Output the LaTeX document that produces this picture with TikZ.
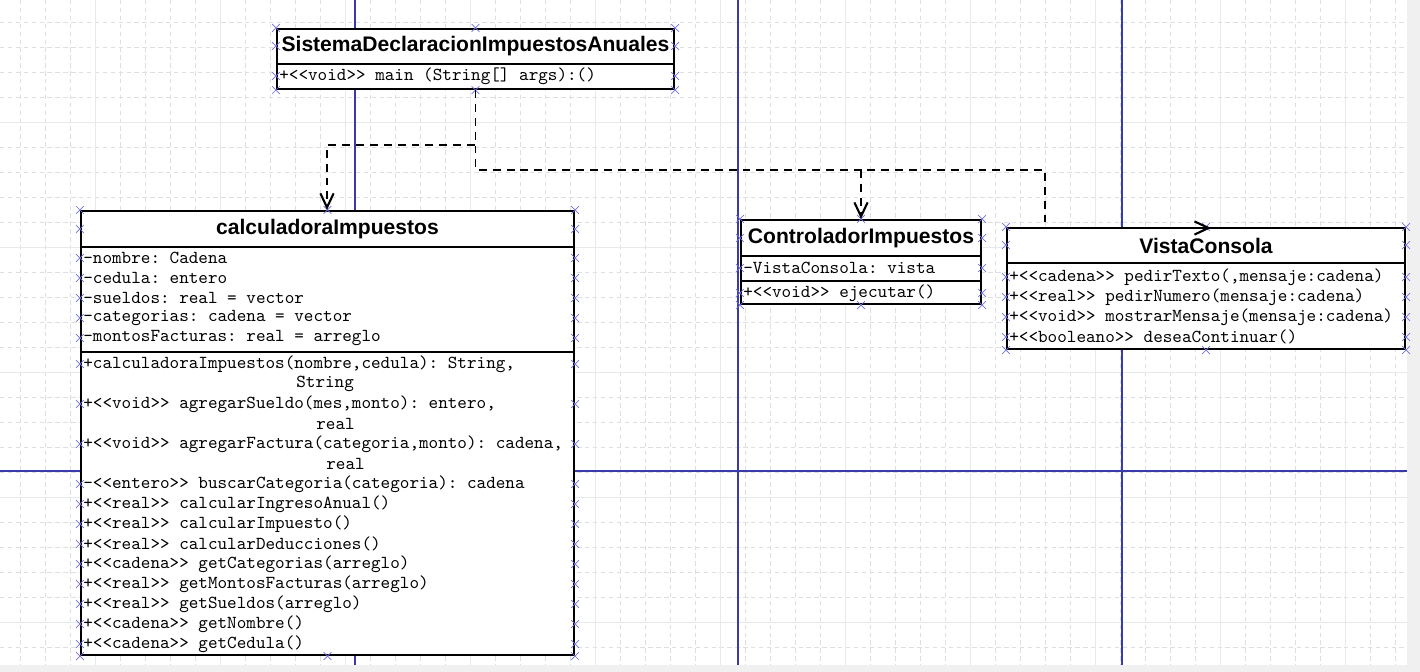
\documentclass[tikz,border=0pt]{standalone}
\usepackage{fontspec}
\newfontfamily\titlefont{Liberation Sans}
\usetikzlibrary{arrows.meta,shapes.misc}
\frenchspacing

\definecolor{gridc}{HTML}{DCE0E0}
\definecolor{gridmaj}{HTML}{E6EAEA}
\definecolor{pageblue}{HTML}{3A3AA8}
\definecolor{handleblue}{HTML}{7070E0}
\definecolor{margin}{HTML}{F0F0F0}

\tikzset{
  classbox/.style={draw=black,line width=1.2pt,fill=white,inner sep=0pt},
  boxline/.style={draw=black,line width=1.2pt},
  classname/.style={inner sep=0pt,font=\titlefont\bfseries\fontsize{12}{14}\selectfont},
  member/.style={anchor=west,inner sep=0pt,font=\ttfamily\fontsize{10.4}{12}\selectfont},
  dep/.style={line width=1.1pt,dash pattern=on 4.5pt off 3.4pt,
    -{Straight Barb[length=8pt,width=7.5pt,line width=1.2pt]}},
  gridline/.style={draw=gridc,line width=0.4pt,dash pattern=on 2.5pt off 2pt},
  gridmajor/.style={draw=gridmaj,line width=0.5pt},
  pageline/.style={draw=pageblue,line width=0.6pt},
  hx/.style={cross out,draw=handleblue,line width=0.4pt,inner sep=0pt,minimum size=4pt}
}

\begin{document}
\begin{tikzpicture}[x=0.02cm,y=-0.02cm]
\useasboundingbox (0,0) rectangle (1420,672);
\fill[margin] (0,0) rectangle (1420,672);
\fill[white] (0,0) rectangle (1407,665);
\foreach \gx in {20,45,...,1395} \draw[gridline] (\gx,0) -- (\gx,665);
\foreach \gy in {22,47,...,647} \draw[gridline] (0,\gy) -- (1407,\gy);
\foreach \gx in {95,220,...,1345} \draw[gridmajor] (\gx,0) -- (\gx,665);
\foreach \gy in {122,247,...,622} \draw[gridmajor] (0,\gy) -- (1407,\gy);
\foreach \gx in {355,738,1122} \draw[pageline] (\gx,0) -- (\gx,665);
\draw[pageline] (0,471) -- (1407,471);

% clases
\node[classbox,minimum width=397*0.02cm,minimum height=60*0.02cm] (sis) at (475.5,59) {};
\node[classname] (sisname) at (475.5,46.5) {SistemaDeclaracionImpuestosAnuales};
\draw[boxline] (277,64) -- (674,64);
\node[member] (sism1) at (279,76) {+<{}<void>{}> main (String[] args):()};

\node[classbox,minimum width=493*0.02cm,minimum height=444*0.02cm] (calc) at (327.5,433) {};
\node[classname] (calcname) at (327.5,229) {calculadoraImpuestos};
\draw[boxline] (81,247) -- (574,247);
\draw[boxline] (81,352) -- (574,352);
\foreach \txt [count=\i] in {{-nombre: Cadena},{-cedula: entero},{-sueldos: real = vector},
  {-categorias: cadena = vector},{-montosFacturas: real = arreglo}}
  \node[member] (calca\i) at (83,238+20*\i) {\txt};
\foreach \gx/\txt [count=\i] in {83/{+calculadoraImpuestos(nombre,cedula): String,},296/String,
  83/{+<{}<void>{}> agregarSueldo(mes,monto): entero,},316/real,
  83/{+<{}<void>{}> agregarFactura(categoria,monto): cadena,},326/real,
  83/{-<{}<entero>{}> buscarCategoria(categoria): cadena},
  83/{+<{}<real>{}> calcularIngresoAnual()},83/{+<{}<real>{}> calcularImpuesto()},
  83/{+<{}<real>{}> calcularDeducciones()},83/{+<{}<cadena>{}> getCategorias(arreglo)},
  83/{+<{}<real>{}> getMontosFacturas(arreglo)},83/{+<{}<real>{}> getSueldos(arreglo)},
  83/{+<{}<cadena>{}> getNombre()},83/{+<{}<cadena>{}> getCedula()}}
  \node[member] (calcm\i) at (\gx,344+20*\i) {\txt};

\node[classbox,minimum width=240*0.02cm,minimum height=84*0.02cm] (ctrl) at (861,262) {};
\node[classname] (ctrlname) at (861,238) {ControladorImpuestos};
\draw[boxline] (741,256) -- (981,256);
\draw[boxline] (741,281) -- (981,281);
\node[member] (ctrla1) at (743,268) {-VistaConsola: vista};
\node[member] (ctrlm1) at (743,293) {+<{}<void>{}> ejecutar()};

\node[classbox,minimum width=398*0.02cm,minimum height=121*0.02cm] (vista) at (1206,288.5) {};
\node[classname] (vistaname) at (1206,245.5) {VistaConsola};
\draw[boxline] (1007,263) -- (1405,263);
\foreach \txt [count=\i] in {{+<{}<cadena>{}> pedirTexto(,mensaje:cadena)},
  {+<{}<real>{}> pedirNumero(mensaje:cadena)},{+<{}<void>{}> mostrarMensaje(mensaje:cadena)},
  {+<{}<booleano>{}> deseaContinuar()}}
  \node[member] (vistam\i) at (1009,257+20*\i) {\txt};

% marcas de seleccion
\foreach \b in {sis,calc,ctrl,vista}
  \foreach \a [count=\k] in {north west,north,north east,south west,south,south east}
    \node[hx] (h\b\k) at (\b.\a) {};
\foreach \b/\ys in {sis/{46,76},calc/{229,258,278,298,318,338,364,404,444,484,504,524,544,564,584,604,624,644},
  ctrl/{238,268,293},vista/{245,277,297,317,337}}
  \foreach \yy [count=\k] in \ys {
    \node[hx] (l\b\k) at (\b.west |- 0,\yy) {};
    \node[hx] (r\b\k) at (\b.east |- 0,\yy) {};
  }

% dependencias
\coordinate (b1) at (327,145);
\coordinate (t1) at (calc.north -| b1);
\coordinate (b2) at (1045,170);
\coordinate (t2) at (1045,228);
\coordinate (e2) at (1211,228);
\coordinate (b3) at (861,170);
\draw[dep] (sis.south) |- (b1) -- (t1);
\draw[dep] (sis.south) |- (b2) -- (t2) -- (e2);
\draw[dep] (b3) -- (ctrl.north);
\end{tikzpicture}
\end{document}
